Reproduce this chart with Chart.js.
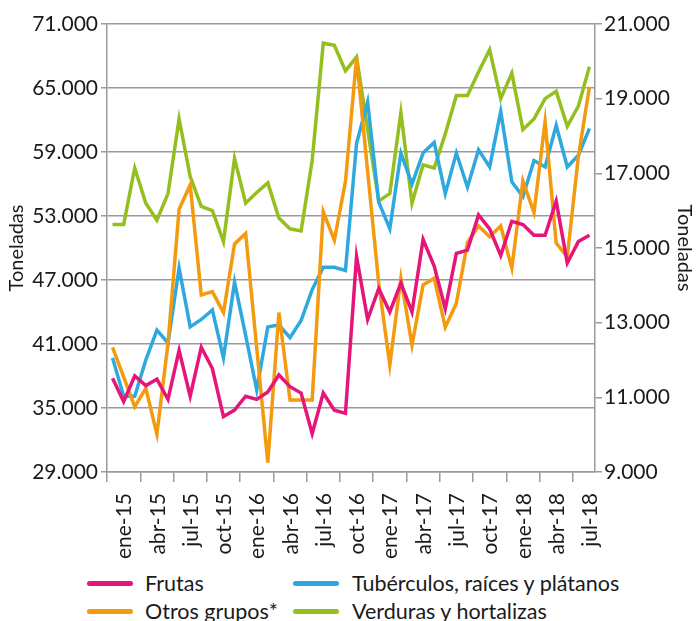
<!DOCTYPE html>
<html lang="es">
<head>
<meta charset="utf-8">
<script src="https://cdn.jsdelivr.net/npm/chart.js@4/dist/chart.umd.min.js"></script>
<style>
  body { margin: 0; background: #fff; }
  #wrap { position: relative; width: 696px; height: 621px; font-family: Lato, sans-serif; color: #1a1a1a; }
  #box { position: absolute; left: 0; top: 0; width: 696px; height: 565px; }
  .lg { position: absolute; font-size: 21.5px; line-height: 24px; white-space: nowrap; }
  .lg i { position: absolute; top: 10px; width: 46px; height: 5px; border-radius: 3px; }
  .lg span { position: absolute; top: 0; }
</style>
</head>
<body>
<div id="wrap">
  <div id="box"><canvas id="chart"></canvas></div>
  <div id="legend"></div>
</div>
<script>
// meses ene-15 .. ago-18
const months = ["ene", "feb", "mar", "abr", "may", "jun", "jul", "ago", "sep", "oct", "nov", "dic"];
const labels = [];
for (let y = 15; y <= 18; y++) {
    for (let m = 0; m < 12; m++) {
        if (y === 18 && m > 7) break;
        labels.push(months[m] + "-" + y);
    }
}

// toneladas, eje izquierdo
const frutas = [37800, 35600, 38000, 37100, 37700, 35800, 40400, 36100, 40700, 38700, 34200, 34800,
    36100, 35800, 36500, 38100, 37000, 36400, 32600, 36400, 34800, 34500, 49200, 43300,
    46200, 44000, 46700, 44000, 50800, 48300, 44300, 49500, 49800, 53100, 51800, 49300,
    52500, 52200, 51200, 51200, 54400, 48600, 50600, 51200];
const tuberculos = [39700, 36100, 36100, 39500, 42300, 41100, 48100, 42600, 43300, 44200, 39700, 46800,
    41800, 36700, 42600, 42800, 41600, 43200, 46100, 48200, 48200, 47900, 59800, 63700,
    54300, 51800, 58900, 56000, 58900, 59900, 55100, 58900, 55700, 59200, 57600, 62800,
    56200, 54800, 58200, 57600, 61500, 57600, 58700, 61200];
const verduras = [52200, 52200, 57500, 54200, 52600, 55100, 62100, 56700, 53900, 53500, 50600, 58400,
    54200, 55200, 56100, 52800, 51800, 51600, 58200, 69200, 69000, 66600, 67900, 61100,
    54400, 55100, 62700, 54200, 57800, 57500, 60700, 64300, 64300, 66500, 68600, 64000,
    66400, 61100, 62100, 64000, 64700, 61400, 63300, 67000];
// toneladas, eje derecho
const otros = [12340, 11550, 10750, 11240, 10010, 12450, 16040, 16690, 13740, 13830, 13270, 15110,
    15390, 12320, 9250, 13270, 10930, 10930, 10930, 15970, 15210, 16780, 20100, 17050,
    14050, 11870, 14190, 12400, 14010, 14190, 12880, 13520, 15150, 15590, 15300, 15590,
    14460, 16800, 15950, 18380, 15130, 14760, 17450, 19320];

const seriesNames = ["Frutas", "Tubérculos, raíces y plátanos", "Otros grupos*", "Verduras y hortalizas"];
const seriesColors = ["#e5157a", "#2ea9e0", "#f39a0f", "#95be1f"];

const fmt = new Intl.NumberFormat("de-DE");
const gridGray = "#9a9a9a";
const font = { family: "Lato, sans-serif", size: 21 };

function line(i, data, axis) {
    return {
        label: seriesNames[i],
        data,
        yAxisID: axis,
        borderColor: seriesColors[i],
        backgroundColor: seriesColors[i],
        borderWidth: 3.5,
        pointRadius: 0,
        tension: 0,
        fill: false,
    };
}

new Chart(document.getElementById("chart"), {
    type: "line",
    data: {
        labels,
        datasets: [
            line(0, frutas, "y"),
            line(2, otros, "y1"),
            line(1, tuberculos, "y"),
            line(3, verduras, "y"),
        ],
    },
    options: {
        responsive: true,
        maintainAspectRatio: false,
        animation: false,
        layout: { padding: { top: 24, left: 0, right: 0, bottom: 0 } },
        plugins: { legend: { display: false }, tooltip: { enabled: false } },
        scales: {
            x: {
                offset: true,
                afterFit(s) { s.height = 93; },
                grid: {
                    offset: true,
                    drawOnChartArea: false,
                    tickLength: 10,
                    lineWidth: 1.5,
                    color: (ctx) => (ctx.index % 3 === 0 ? gridGray : "transparent"),
                },
                border: { color: gridGray, width: 1.5 },
                ticks: {
                    autoSkip: false,
                    minRotation: 90,
                    maxRotation: 90,
                    padding: 11,
                    labelOffset: 12,
                    color: "#1a1a1a",
                    font,
                    callback: (v, i) => (i % 3 === 0 ? labels[i] : ""),
                },
            },
            y: {
                position: "left",
                min: 29000,
                max: 71000,
                afterFit(s) { s.width = 107; },
                grid: { color: gridGray, lineWidth: 1.5, tickLength: 6 },
                border: { color: gridGray, width: 1.5 },
                ticks: { stepSize: 6000, padding: 3, color: "#1a1a1a", font, callback: (v) => fmt.format(v) },
                title: { display: true, text: "Toneladas", color: "#1a1a1a", font: { ...font, size: 20 }, padding: { top: 5, bottom: 0 } },
            },
            y1: {
                position: "right",
                min: 9000,
                max: 21000,
                afterFit(s) { s.width = 101; },
                grid: { drawOnChartArea: false, color: gridGray, lineWidth: 1.5, tickLength: 7 },
                border: { color: gridGray, width: 1.5 },
                ticks: { stepSize: 2000, padding: 2, color: "#1a1a1a", font, callback: (v) => fmt.format(v) },
                title: { display: true, text: "Toneladas", color: "#1a1a1a", font: { ...font, size: 20 }, padding: { top: 0, bottom: 0 } },
            },
        },
    },
});

// leyenda en dos columnas
const legendPos = [[87, 571], [293, 571], [87, 599], [293, 599]];
const legendEl = document.getElementById("legend");
seriesNames.forEach((name, i) => {
    const d = document.createElement("div");
    d.className = "lg";
    d.style.left = legendPos[i][0] + "px";
    d.style.top = legendPos[i][1] + "px";
    d.innerHTML = `<i style="background:${seriesColors[i]}"></i><span style="left:${i % 2 ? 59 : 58}px">${name}</span>`;
    legendEl.appendChild(d);
});
</script>
</body>
</html>
